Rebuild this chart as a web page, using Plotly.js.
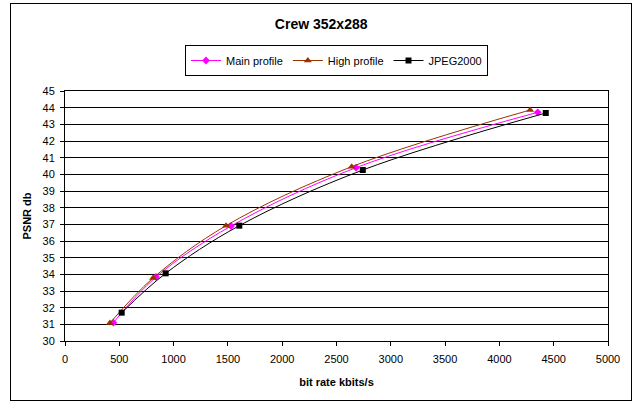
<!DOCTYPE html>
<html>
<head>
<meta charset="utf-8">
<script src="https://cdn.plot.ly/plotly-3.0.1.min.js"></script>
<style>
  html, body { margin: 0; padding: 0; background: #fff; }
  #wrap { position: relative; width: 636px; height: 403px; }
  #chart { position: absolute; left: 0; top: 0; width: 636px; height: 403px; }
  #frame { position: absolute; left: 10px; top: 3px; width: 620px; height: 396px; border: 1px solid #000; pointer-events: none; }
</style>
</head>
<body>
<div id="wrap">
  <div id="chart"></div>
  <div id="frame"></div>
</div>
<script>
const mainRate = [445, 838, 1529, 2680, 4353];
const mainPsnr = [31.1, 33.84, 36.9, 40.4, 43.72];
const highRate = [414, 811, 1483, 2640, 4283];
const highPsnr = [31.08, 33.78, 36.92, 40.46, 43.86];
const jpegRate = [522, 927, 1605, 2742, 4427];
const jpegPsnr = [31.7, 34.06, 36.92, 40.26, 43.68];

const font = 'Liberation Sans, Arial, sans-serif';

const traces = [
  { x: mainRate, y: mainPsnr, name: 'Main profile', mode: 'lines+markers',
    line: { color: '#FF00FF', width: 1, shape: 'spline', smoothing: 1 },
    marker: { symbol: 'diamond', size: 6, color: '#FF00FF' } },
  { x: highRate, y: highPsnr, name: 'High profile', mode: 'lines+markers',
    line: { color: '#993300', width: 1, shape: 'spline', smoothing: 1 },
    marker: { symbol: 'triangle-up', size: 7, color: '#993300' } },
  { x: jpegRate, y: jpegPsnr, name: 'JPEG2000', mode: 'lines+markers',
    line: { color: '#000000', width: 1, shape: 'spline', smoothing: 1 },
    marker: { symbol: 'square', size: 6, color: '#000000' } }
];

const layout = {
  width: 636, height: 403,
  margin: { l: 65, r: 28, t: 91, b: 62 },
  paper_bgcolor: '#ffffff', plot_bgcolor: '#ffffff',
  font: { family: font, size: 11, color: '#000' },
  title: { text: '<b>Crew 352x288</b>', font: { family: font, size: 14, color: '#000' },
           x: 0.505, xref: 'container', xanchor: 'center', y: 0.94, yref: 'container', yanchor: 'middle' },
  showlegend: true,
  legend: { orientation: 'h', x: 0.5, xanchor: 'center', y: 1.184, yanchor: 'top',
            bordercolor: '#000', borderwidth: 1, font: { family: font, size: 11 },
            itemwidth: 30, tracegroupgap: 0 },
  xaxis: {
    range: [0, 5000], dtick: 500, tick0: 0,
    showline: true, linecolor: '#000', linewidth: 1, mirror: true,
    ticks: 'outside', ticklen: 4, tickcolor: '#000', ticklabelstandoff: 4,
    showgrid: false, zeroline: false,
    tickfont: { family: font, size: 11 },
    title: { text: '<b>bit rate kbits/s</b>', font: { family: font, size: 11 }, standoff: 14 }
  },
  yaxis: {
    range: [30, 45], dtick: 1, tick0: 30,
    showline: true, linecolor: '#000', linewidth: 1, mirror: true,
    ticks: 'outside', ticklen: 4, tickcolor: '#000', ticklabelstandoff: 3,
    showgrid: true, gridcolor: '#000', gridwidth: 1, zeroline: false,
    tickfont: { family: font, size: 11 },
    title: { text: '<b>PSNR db</b>', font: { family: font, size: 11 }, standoff: 8 }
  }
};

Plotly.newPlot('chart', traces, layout, { displayModeBar: false, staticPlot: true });
</script>
</body>
</html>
